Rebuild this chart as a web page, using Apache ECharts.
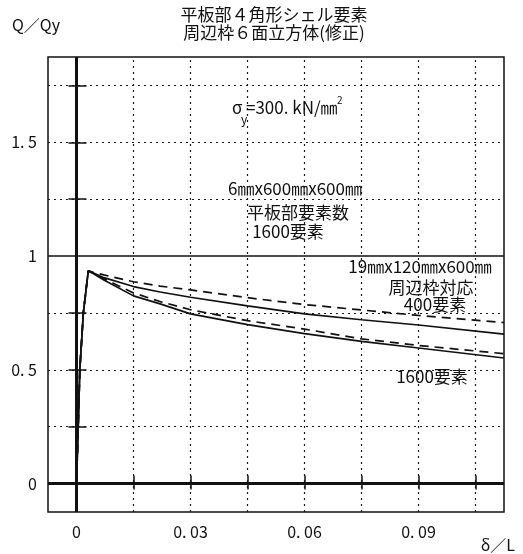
<!DOCTYPE html>
<html>
<head>
<meta charset="utf-8">
<script src="https://cdn.jsdelivr.net/npm/echarts@6/dist/echarts.min.js"></script>
<style>html,body{margin:0;padding:0;background:#fff;}#c{width:523px;height:554px;}</style>
</head>
<body>
<div id="c"></div>
<script>
// ---- data ----
const riseDelta = [0, 0.00045, 0.00087, 0.0018, 0.0031];
const riseQ = [0, 0.25, 0.5, 0.75, 0.935];
const decayDelta = [0.0045, 0.0072, 0.015, 0.022, 0.03, 0.045, 0.06, 0.075, 0.09, 0.1125];
const q400dashed = [0.928, 0.917, 0.887, 0.868, 0.851, 0.817, 0.787, 0.763, 0.739, 0.708];
const q400solid = [0.925, 0.905, 0.866, 0.842, 0.819, 0.781, 0.746, 0.720, 0.697, 0.657];
const q1600dashed = [0.924, 0.900, 0.838, 0.800, 0.764, 0.716, 0.679, 0.636, 0.607, 0.571];
const q1600solid = [0.922, 0.895, 0.825, 0.790, 0.746, 0.699, 0.659, 0.625, 0.596, 0.552];

const xGrid = [0.015, 0.03, 0.045, 0.06, 0.075, 0.09, 0.105];
const yGrid = [0.25, 0.5, 0.75, 1.25, 1.5, 1.75];
const xLabels = [0, 0.03, 0.06, 0.09];
const yLabels = [0, 0.5, 1, 1.5];

const titleLines = ['平板部４角形シェル要素', '周辺枠６面立方体(修正)'];
const yName = 'Q／Qy';
const xName = 'δ／L';

function build(qs) {
  const out = riseDelta.map((d, i) => [d, riseQ[i]]);
  decayDelta.forEach((d, i) => out.push([d, qs[i]]));
  return out;
}
function fmt(v) {
  if (Math.abs(v) < 1e-9) return '0';
  let s = String(+v.toFixed(2));
  return s.replace('.', '. ');
}

const FONT = '"Noto Sans CJK JP", sans-serif';
const BLACK = '#111';
const dot = { color: '#1a1a1a', width: 1.2, type: [2, 4] };

const chart = echarts.init(document.getElementById('c'), null, { renderer: 'canvas' });

const markData = [];
xGrid.forEach(v => markData.push({ xAxis: v, lineStyle: dot }));
yGrid.forEach(v => markData.push({ yAxis: v, lineStyle: dot }));
markData.push({ yAxis: 1, lineStyle: { color: BLACK, width: 1.5, type: 'solid' } });
markData.push({ yAxis: 0, lineStyle: { color: BLACK, width: 3, type: 'solid' } });
markData.push({ xAxis: 0, lineStyle: { color: BLACK, width: 3, type: 'solid' } });

function lineSeries(name, qs, dashed, extra) {
  return Object.assign({
    name: name,
    type: 'line',
    data: build(qs),
    showSymbol: false,
    symbol: 'none',
    z: 5,
    lineStyle: { color: BLACK, width: 1.7, type: dashed ? [9, 6] : 'solid' }
  }, extra || {});
}

function txt(x, y, text, size, align) {
  return {
    type: 'text', z: 100,
    style: {
      x: x, y: y, text: text, fill: BLACK,
      font: size + 'px ' + FONT,
      align: align || 'center', textAlign: align || 'center',
      verticalAlign: 'middle', textVerticalAlign: 'middle'
    }
  };
}

const option = {
  animation: false,
  backgroundColor: '#fff',
  grid: { left: 48, right: 19, top: 57, bottom: 42, show: true, borderColor: BLACK, borderWidth: 1.5, backgroundColor: 'transparent' },
  xAxis: [{
    type: 'value', min: -0.0075, max: 0.1125,
    axisLine: { show: false },
    splitLine: { show: false },
    axisTick: { show: true, inside: true, length: 8, customValues: xGrid, lineStyle: { color: BLACK, width: 1.5 } },
    axisLabel: { customValues: xLabels, formatter: fmt, margin: 12, color: BLACK, fontSize: 16, fontFamily: FONT }
  }, {
    type: 'value', min: -0.0075, max: 0.1125, position: 'top',
    axisLine: { show: false }, splitLine: { show: false },
    axisTick: { show: true, inside: true, length: 6, customValues: xGrid, lineStyle: { color: BLACK, width: 1.5 } },
    axisLabel: { show: false }
  }],
  yAxis: [{
    type: 'value', min: -0.125, max: 1.875,
    axisLine: { show: false }, splitLine: { show: false },
    axisTick: { show: true, inside: true, length: 10, customValues: yGrid, lineStyle: { color: BLACK, width: 1.5 } },
    axisLabel: { customValues: yLabels, formatter: fmt, margin: 11, color: BLACK, fontSize: 16, fontFamily: FONT }
  }, {
    type: 'value', min: -0.125, max: 1.875, position: 'right',
    axisLine: { show: false }, splitLine: { show: false },
    axisTick: { show: true, inside: true, length: 8, customValues: yGrid, lineStyle: { color: BLACK, width: 1.5 } },
    axisLabel: { show: false }
  }],
  series: [
    lineSeries('400要素 (破線)', q400dashed, true, {
      markLine: { silent: true, symbol: 'none', precision: 6, label: { show: false }, data: markData, z: 1 }
    }),
    lineSeries('400要素', q400solid, false),
    lineSeries('1600要素 (破線)', q1600dashed, true),
    lineSeries('1600要素', q1600solid, false)
  ],
  graphic: [
    txt(274, 15, titleLines[0], 17),
    txt(274, 33, titleLines[1], 17),
    txt(12, 25, yName, 16, 'left'),
    txt(515, 545, xName, 16, 'right'),
    txt(232, 108, 'σ', 17, 'left'),
    txt(241, 119, 'y', 12, 'left'),
    txt(246, 108, '=300. kN/㎜', 17, 'left'),
    txt(337, 100, '2', 10, 'left'),
    txt(295, 189, '6㎜x600㎜x600㎜', 17),
    txt(298, 213, '平板部要素数', 17),
    txt(288, 232, '1600要素', 17),
    txt(420, 267, '19㎜x120㎜x600㎜', 17),
    txt(431, 288, '周辺枠対応', 17),
    txt(435, 305, '400要素', 17),
    txt(432, 377, '1600要素', 17)
  ]
};
chart.setOption(option);
</script>
</body>
</html>
